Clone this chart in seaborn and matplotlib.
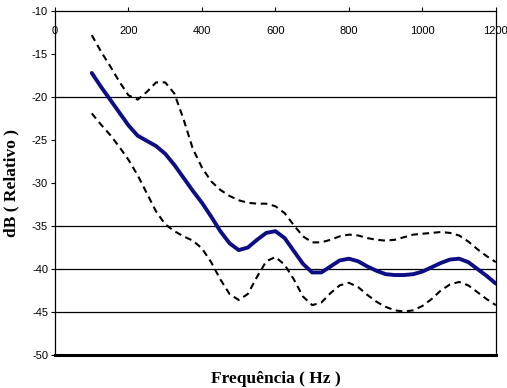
import matplotlib
matplotlib.use("Agg")
import matplotlib.pyplot as plt
import seaborn as sns
import pandas as pd

# Frequency axis (Hz)
freq = [100, 125, 150, 175, 200, 225, 250, 275, 300, 325, 350, 375, 400, 425,
        450, 475, 500, 525, 550, 575, 600, 625, 650, 675, 700, 725, 750, 775,
        800, 825, 850, 875, 900, 925, 950, 975, 1000, 1025, 1050, 1075, 1100,
        1125, 1150, 1175, 1200]

# Mean relative level (dB)
mean_db = [-17.2, -18.8, -20.3, -21.8, -23.3, -24.5, -25.1, -25.7, -26.6, -27.9,
           -29.4, -30.9, -32.3, -33.9, -35.6, -37.0, -37.8, -37.5, -36.6, -35.8,
           -35.6, -36.4, -37.9, -39.4, -40.4, -40.4, -39.7, -39.0, -38.8, -39.1,
           -39.7, -40.2, -40.6, -40.7, -40.7, -40.6, -40.3, -39.8, -39.3, -38.9,
           -38.8, -39.2, -40.0, -40.8, -41.7]

# Upper bound (dB)
upper_db = [-12.8, -14.7, -16.4, -18.2, -19.8, -20.3, -19.4, -18.3, -18.3, -19.6,
            -22.6, -26.0, -28.2, -29.8, -30.8, -31.5, -32.0, -32.3, -32.4, -32.4,
            -32.7, -33.5, -34.9, -36.2, -36.9, -36.9, -36.6, -36.2, -36.0, -36.1,
            -36.4, -36.6, -36.7, -36.6, -36.3, -36.0, -35.9, -35.8, -35.7, -35.8,
            -36.1, -36.8, -37.7, -38.5, -39.2]

# Lower bound (dB)
lower_db = [-21.9, -23.2, -24.4, -25.8, -27.3, -29.1, -31.2, -33.3, -34.8, -35.6,
            -36.2, -36.7, -37.6, -39.2, -41.2, -42.9, -43.6, -42.9, -40.9, -39.1,
            -38.6, -39.5, -41.2, -43.2, -44.2, -43.9, -42.8, -41.9, -41.6, -42.1,
            -43.0, -43.8, -44.4, -44.8, -44.95, -44.8, -44.3, -43.5, -42.5, -41.8,
            -41.5, -41.9, -42.7, -43.5, -44.2]

x_ticks = [0, 200, 400, 600, 800, 1000, 1200]
y_ticks = [-50, -45, -40, -35, -30, -25, -20, -15, -10]
grid_levels = [-20, -35, -40, -45]

sns.set_style("white")
plt.rcParams["font.family"] = ["Liberation Sans", "DejaVu Sans"]
plt.rcParams["axes.unicode_minus"] = False

df = pd.DataFrame({"freq": freq, "mean": mean_db, "upper": upper_db, "lower": lower_db})

fig = plt.figure(figsize=(5.07, 3.88), dpi=100)
ax = fig.add_axes([0.1085, 0.085, 0.8695, 0.8866])

for lvl in grid_levels:
    ax.axhline(lvl, color="black", lw=0.9, zorder=1)

sns.lineplot(data=df, x="freq", y="upper", ax=ax, color="black", lw=1.5,
             zorder=2).lines[-1].set_dashes((3.2, 2.2))
sns.lineplot(data=df, x="freq", y="lower", ax=ax, color="black", lw=1.5,
             zorder=2).lines[-1].set_dashes((3.2, 2.2))
sns.lineplot(data=df, x="freq", y="mean", ax=ax, color="#0d0d85", lw=2.8, zorder=3)

ax.set_xlim(0, 1200)
ax.set_ylim(-50, -10)
ax.set_xticks(x_ticks)
ax.set_yticks(y_ticks)

for side in ["left", "right", "top"]:
    ax.spines[side].set_color("black")
    ax.spines[side].set_linewidth(0.9)
ax.spines["bottom"].set_color("black")
ax.spines["bottom"].set_linewidth(2.2)

ax.xaxis.tick_top()
ax.tick_params(axis="x", direction="out", length=3, width=0.8, color="black",
               pad=-21, labelsize=8, labelcolor="black")
ax.tick_params(axis="y", direction="out", length=3, width=0.8, color="black",
               pad=2, labelsize=8, labelcolor="black", left=True)

ax.set_xlabel("Frequência ( Hz )", fontsize=12.5, fontweight="bold", color="black",
              family=["Liberation Serif", "DejaVu Serif"])
ax.xaxis.set_label_position("bottom")
ax.xaxis.set_label_coords(0.5, -0.045)
ax.set_ylabel("dB ( Relativo )", fontsize=12.5, fontweight="bold", color="black",
              family=["Liberation Serif", "DejaVu Serif"])
ax.yaxis.set_label_coords(-0.08, 0.5)

fig.savefig("out.png", dpi=100)
